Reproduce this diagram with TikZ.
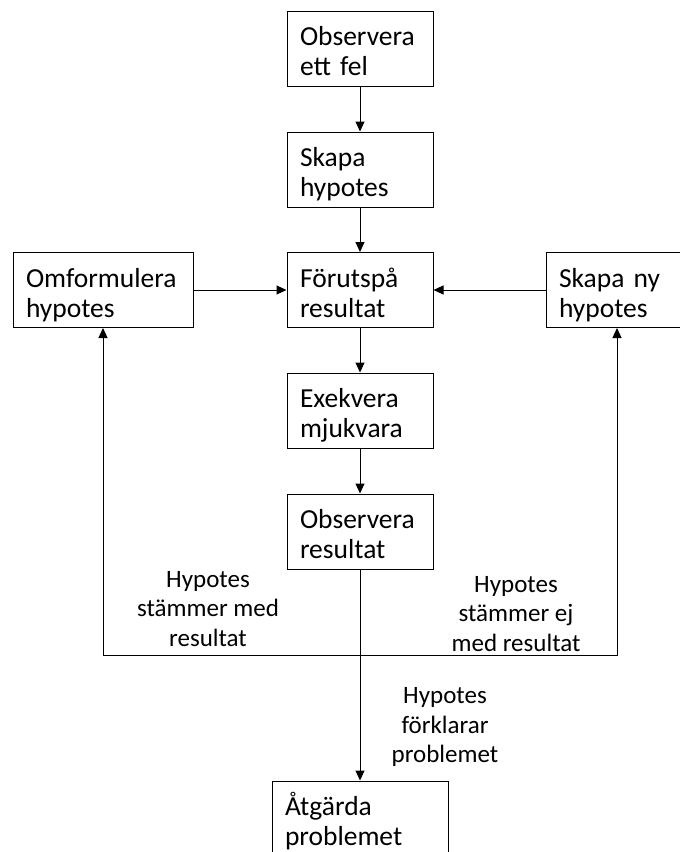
\documentclass[tikz,border=0pt]{standalone}
\usepackage{fontspec}
\setmainfont{Carlito}
\usetikzlibrary{arrows.meta}
\begin{document}
\begin{tikzpicture}[x=1pt,y=-1pt,
  box/.style={draw, line width=1pt, minimum height=75pt, inner xsep=13pt, inner ysep=0pt, align=left,
    font=\fontsize{27.5}{30}\selectfont,
    execute at begin node={\rule{0pt}{30pt}}, execute at end node={\rule[-6pt]{0pt}{6pt}}},
  lbl/.style={align=center, inner sep=0pt, font=\fontsize{25}{29.5}\selectfont},
  conn/.style={line width=1pt, -{Triangle[length=10pt,width=9pt]}}]
\useasboundingbox (0,0) rectangle (680,852);
\node[box, text width=120pt] (obs) at (360,48.5) {Observera\\ett fel};
\node[box, text width=120pt] (skapa) at (360,169.5) {Skapa\\hypotes};
\node[box, text width=120pt] (forut) at (360,290) {Förutspå\\resultat};
\node[box, text width=154pt] (omf) at (103,290) {Omformulera\\hypotes};
\node[box, text width=116pt] (ny) at (617,290) {Skapa ny\\hypotes};
\node[box, text width=120pt] (exek) at (360,410.5) {Exekvera\\mjukvara};
\node[box, text width=120pt] (obsres) at (360,531.5) {Observera\\resultat};
\node[box, text width=150pt] (atg) at (360,818.5) {Åtgärda\\problemet};
\coordinate (j) at (360,655);
\draw[conn] (obs) -- (skapa);
\draw[conn] (skapa) -- (forut);
\draw[conn] (omf) -- (forut);
\draw[conn] (ny) -- (forut);
\draw[conn] (forut) -- (exek);
\draw[conn] (exek) -- (obsres);
\draw[conn] (obsres) -- (atg);
\draw[conn] (j) -| (omf.south);
\draw[conn] (j) -| (ny.south);
\node[lbl] (l1) at (208,609) {Hypotes\\stämmer med\\resultat};
\node[lbl] (l2) at (516,614) {Hypotes\\stämmer ej\\med resultat};
\node[lbl] (l3) at (445,727) {Hypotes\\förklarar\\problemet};
\end{tikzpicture}
\end{document}
